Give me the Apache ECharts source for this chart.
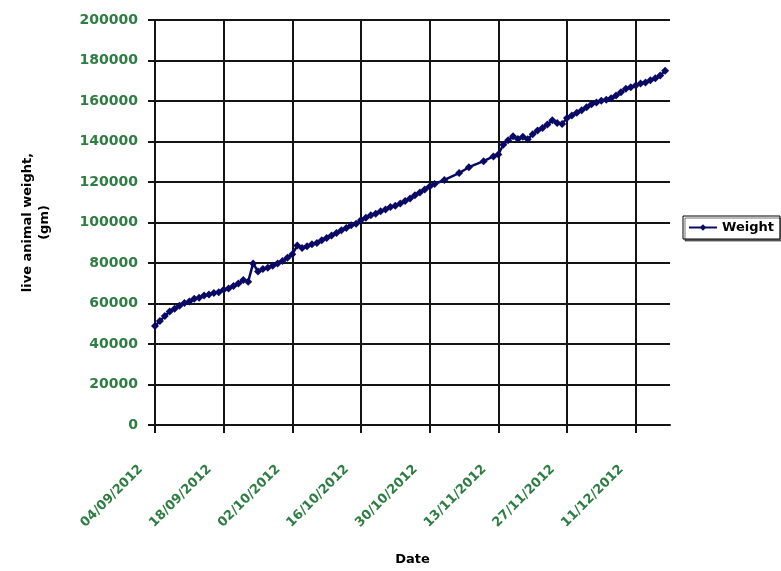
<!DOCTYPE html>
<html>
<head>
<meta charset="utf-8">
<title>Live animal weight</title>
<script src="https://cdn.jsdelivr.net/npm/echarts@6/dist/echarts.min.js"></script>
<style>
  html, body { margin: 0; padding: 0; background: #ffffff; }
  #chart { width: 781px; height: 571px; }
</style>
</head>
<body>
<div id="chart"></div>
<script>
// Weighing dates (dd/mm/yyyy) and recorded live weight in grams
const dates = [
  '04/09/2012','05/09/2012','06/09/2012','07/09/2012','08/09/2012','09/09/2012','10/09/2012',
  '11/09/2012','12/09/2012','13/09/2012','14/09/2012','15/09/2012','16/09/2012','17/09/2012',
  '18/09/2012','19/09/2012','20/09/2012','21/09/2012','22/09/2012','23/09/2012','24/09/2012',
  '25/09/2012','26/09/2012','27/09/2012','28/09/2012','29/09/2012','30/09/2012','01/10/2012',
  '02/10/2012','03/10/2012','04/10/2012','05/10/2012','06/10/2012','07/10/2012','08/10/2012',
  '09/10/2012','10/10/2012','11/10/2012','12/10/2012','13/10/2012','14/10/2012','15/10/2012',
  '16/10/2012','17/10/2012','18/10/2012','19/10/2012','20/10/2012','21/10/2012','22/10/2012',
  '23/10/2012','24/10/2012','25/10/2012','26/10/2012','27/10/2012','28/10/2012','29/10/2012',
  '30/10/2012','31/10/2012','02/11/2012','05/11/2012','07/11/2012','10/11/2012','12/11/2012',
  '13/11/2012','14/11/2012','15/11/2012','16/11/2012','17/11/2012','18/11/2012','19/11/2012',
  '20/11/2012','21/11/2012','22/11/2012','23/11/2012','24/11/2012','25/11/2012','26/11/2012',
  '27/11/2012','28/11/2012','29/11/2012','30/11/2012','01/12/2012','02/12/2012','03/12/2012',
  '04/12/2012','05/12/2012','06/12/2012','07/12/2012','08/12/2012','09/12/2012','10/12/2012',
  '11/12/2012','12/12/2012','13/12/2012','14/12/2012','15/12/2012','16/12/2012','17/12/2012'
];

const weight = [
  48900, 51300, 53800, 56100, 57400, 58900, 60300,
  61000, 62400, 62900, 64000, 64400, 65200, 65600,
  66800, 67400, 68700, 69900, 71600, 70800, 79800,
  75800, 77000, 77600, 78600, 79700, 81000, 82600,
  84300, 88600, 87400, 88300, 89200, 89900, 91200,
  92400, 93600, 94800, 96200, 97300, 98600, 99400,
  101200, 102300, 103600, 104300, 105600, 106400, 107600,
  108300, 109400, 110600, 111900, 113400, 114800, 116300,
  117800, 119000, 121000, 124400, 127300, 130300, 132600,
  133600, 138400, 140600, 142600, 141200, 142300, 141100,
  143600, 145400, 146700, 148400, 150500, 149100, 148600,
  151600, 152900, 154200, 155400, 156900, 158400, 159300,
  160100, 160600, 161400, 162700, 164300, 166100, 166800,
  167700, 168600, 169100, 170200, 171200, 172600, 174900
];

// Date axis: labelled every 14 days, running to 18/12/2012
const tickDates = ['04/09/2012','18/09/2012','02/10/2012','16/10/2012','30/10/2012','13/11/2012','27/11/2012','11/12/2012'];
const axisEndDate = '18/12/2012';
const tickStepDays = 14;

// Weight axis ticks
const weightTicks = [0, 20000, 40000, 60000, 80000, 100000, 120000, 140000, 160000, 180000, 200000];

const DAY_MS = 86400000;
function parseDate(s) {
  const p = s.split('/');
  return Date.UTC(+p[2], +p[1] - 1, +p[0]);
}
const origin = parseDate(tickDates[0]);
function dayOffset(s) { return Math.round((parseDate(s) - origin) / DAY_MS); }
function formatDay(d) {
  const t = new Date(origin + d * DAY_MS);
  const dd = String(t.getUTCDate()).padStart(2, '0');
  const mm = String(t.getUTCMonth() + 1).padStart(2, '0');
  return dd + '/' + mm + '/' + t.getUTCFullYear();
}

const points = dates.map((s, i) => [dayOffset(s), weight[i]]);
const tickDays = tickDates.map(dayOffset);

const labelGreen = '#2e7d42';
const gridBlack = '#141414';
const navy = '#0a0a66';

const chart = echarts.init(document.getElementById('chart'), null, { renderer: 'canvas' });
chart.setOption({
  animation: false,
  backgroundColor: '#ffffff',
  grid: { left: 155, right: 111, top: 20, bottom: 134, containLabel: false },
  legend: {
    data: ['Weight'],
    left: 683,
    top: 216,
    orient: 'vertical',
    backgroundColor: '#ffffff',
    borderColor: '#000000',
    borderWidth: 1,
    borderRadius: 0,
    padding: [5, 6, 5, 5],
    itemWidth: 28,
    itemHeight: 8,
    itemGap: 4,
    shadowColor: 'rgba(0,0,0,0.55)',
    shadowOffsetX: 2,
    shadowOffsetY: 2,
    shadowBlur: 0,
    textStyle: { fontFamily: 'DejaVu Sans', fontWeight: 'bold', fontSize: 13, color: '#000000' }
  },
  xAxis: {
    type: 'value',
    min: 0,
    max: dayOffset(axisEndDate),
    interval: tickStepDays,
    name: 'Date',
    nameLocation: 'middle',
    nameGap: 128,
    nameTextStyle: { fontFamily: 'DejaVu Sans', fontWeight: 'bold', fontSize: 13, color: '#000000' },
    axisLine: { show: true, onZero: false, lineStyle: { color: gridBlack, width: 2 } },
    axisTick: { show: true, inside: false, length: 8, customValues: tickDays, lineStyle: { color: gridBlack, width: 2 } },
    axisLabel: {
      show: true,
      customValues: tickDays,
      rotate: 45,
      margin: 28,
      padding: [0, 20, 0, 0],
      fontFamily: 'DejaVu Sans',
      fontWeight: 'bold',
      fontSize: 13,
      color: labelGreen,
      formatter: (v) => formatDay(v)
    },
    splitLine: { show: true, lineStyle: { color: gridBlack, width: 2 } }
  },
  yAxis: {
    type: 'value',
    min: weightTicks[0],
    max: weightTicks[weightTicks.length - 1],
    interval: weightTicks[1] - weightTicks[0],
    name: 'live animal weight,\n(gm)',
    nameLocation: 'middle',
    nameRotate: 90,
    nameGap: 102,
    nameTextStyle: { fontFamily: 'DejaVu Sans', fontWeight: 'bold', fontSize: 13, color: '#000000', lineHeight: 17 },
    axisLine: { show: true, lineStyle: { color: gridBlack, width: 2 } },
    axisTick: { show: true, inside: false, length: 7, lineStyle: { color: gridBlack, width: 2 } },
    axisLabel: {
      margin: 17,
      fontFamily: 'DejaVu Sans',
      fontWeight: 'bold',
      fontSize: 14,
      color: labelGreen,
      formatter: (v) => String(v)
    },
    splitLine: { show: true, lineStyle: { color: gridBlack, width: 2 } }
  },
  series: [{
    name: 'Weight',
    type: 'line',
    data: points,
    symbol: 'diamond',
    symbolSize: 8,
    showSymbol: true,
    showAllSymbol: true,
    lineStyle: { color: navy, width: 2.5 },
    itemStyle: { color: navy },
    emphasis: { disabled: true }
  }]
});
</script>
</body>
</html>
